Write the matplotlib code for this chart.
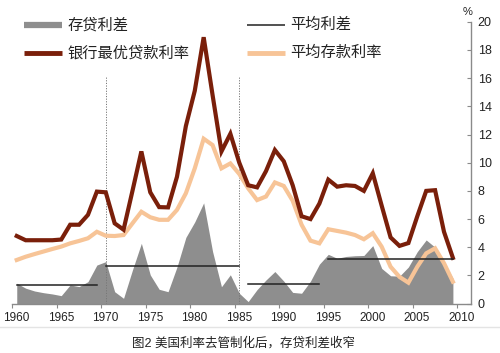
import matplotlib.pyplot as plt
import matplotlib.transforms as mtransforms
from matplotlib.lines import Line2D

plt.rcParams['font.family'] = ['Liberation Sans', 'Noto Sans CJK SC']

# annual data, 1960-2009 (%)
years = list(range(1960, 2010))
prime = [4.8, 4.5, 4.5, 4.5, 4.5, 4.55, 5.6, 5.6, 6.3, 7.95,
         7.9, 5.7, 5.25, 8.0, 10.8, 7.9, 6.85, 6.83, 9.0, 12.6,
         15.1, 18.9, 14.8, 10.8, 12.05, 10.0, 8.4, 8.25, 9.4, 10.9,
         10.1, 8.4, 6.2, 6.0, 7.1, 8.8, 8.3, 8.4, 8.35, 8.0,
         9.25, 6.95, 4.7, 4.1, 4.3, 6.2, 8.0, 8.05, 5.1, 3.25]
deposit = [3.1, 3.33, 3.52, 3.7, 3.88, 4.05, 4.28, 4.45, 4.64, 5.1,
           4.82, 4.8, 4.87, 5.7, 6.52, 6.13, 5.95, 5.95, 6.65, 7.83,
           9.6, 11.7, 11.25, 9.6, 9.95, 9.2, 8.18, 7.35, 7.6, 8.6,
           8.35, 7.3, 5.6, 4.47, 4.28, 5.28, 5.16, 5.04, 4.87, 4.57,
           5.0, 4.04, 2.62, 1.9, 1.49, 2.62, 3.57, 3.93, 2.87, 1.56]
spread = [1.45, 1.1, 0.9, 0.78, 0.69, 0.57, 1.33, 1.21, 1.56, 2.74,
          2.98, 0.85, 0.38, 2.39, 4.28, 2.04, 1.02, 0.85, 2.6, 4.7,
          5.8, 7.15, 3.7, 1.2, 2.05, 0.74, 0.15, 1.0, 1.68, 2.28,
          1.6, 0.8, 0.74, 1.6, 2.8, 3.5, 3.22, 3.35, 3.4, 3.42,
          4.12, 2.5, 1.98, 1.95, 2.6, 3.69, 4.52, 4.0, 2.95, 1.8]
# average spread per period: (start, end, value)
avg_periods = [(1960, 1969, 1.33), (1970, 1985, 2.68),
               (1986, 1994, 1.4), (1995, 2009, 3.15)]
breaks = [1970, 1985]

labels = ['存贷利差', '平均利差', '银行最优贷款利率', '平均存款利率']
caption = '图2 美国利率去管制化后，存贷利差收窄'

c_gray = '#8e8e8e'
c_red = '#7a1f0a'
c_orange = '#f7c497'
c_axis = '#8a8a8a'

fig = plt.figure(figsize=(5, 3.53), dpi=100)
ax = fig.add_axes([0.0246, 0.1397, 0.9168, 0.7988])

# points sit in the middle of each year slot
pos = [y + 0.5 for y in years]

ax.fill_between(pos, spread, 0, color=c_gray, lw=0, zorder=1)
ax.plot(pos, deposit, color=c_orange, lw=3, solid_joinstyle='miter', zorder=3)
ax.plot(pos, prime, color=c_red, lw=3, solid_joinstyle='miter', zorder=4)
for s, e, v in avg_periods:
    ax.plot([s + 0.5, e + 0.5], [v, v], color='#222222', lw=1.1, zorder=5)
for b in breaks:
    ax.plot([b + 0.5, b + 0.5], [0, 16.1], color='#777777', lw=0.7,
            ls=(0, (1.2, 1.5)), zorder=2)

ax.set_xlim(1960, 2011.5)
ax.set_ylim(0, 20)
ax.set_xticks(range(1960, 2011, 5))
ax.set_yticks(range(0, 21, 2))
ax.yaxis.tick_right()

for side in ['top', 'left']:
    ax.spines[side].set_visible(False)
for side in ['bottom', 'right']:
    ax.spines[side].set_color(c_axis)
    ax.spines[side].set_linewidth(1.0)
ax.tick_params(axis='x', direction='out', length=3, color=c_axis,
               labelsize=8.5, pad=3, labelcolor='#222222')
ax.tick_params(axis='y', direction='in', length=3, color=c_axis,
               labelsize=9, pad=5, labelcolor='#222222')

# year labels sit a few pixels right of their ticks in the reference
shift = mtransforms.ScaledTranslation(4 / 100, 0, fig.dpi_scale_trans)
for lbl in ax.get_xticklabels():
    lbl.set_transform(lbl.get_transform() + shift)

fig.text(0.936, 0.967, '%', fontsize=8, ha='center', va='center', color='#222222')

# legend drawn by hand, two columns
def leg_item(x0, y, label, color, lw):
    fig.add_artist(Line2D([x0 / 500, (x0 + 38) / 500], [1 - y / 353] * 2,
                          transform=fig.transFigure, color=color, lw=lw,
                          solid_capstyle='butt'))
    fig.text((x0 + 43) / 500, 1 - y / 353, label, fontsize=11,
             ha='left', va='center', color='#222222')

leg_item(24, 25, labels[0], c_gray, 4.5)
leg_item(24, 53, labels[2], c_red, 3.5)
leg_item(247, 25, labels[1], '#222222', 1.1)
leg_item(247, 53, labels[3], c_orange, 3.5)

fig.add_artist(Line2D([0, 1], [1 - 327 / 353] * 2, transform=fig.transFigure,
                      color='#e4e4e4', lw=1))
fig.text(0.487, 1 - 343 / 353, caption, fontsize=9, ha='center', va='center',
         color='#222222')

fig.savefig('out.png', dpi=100)
